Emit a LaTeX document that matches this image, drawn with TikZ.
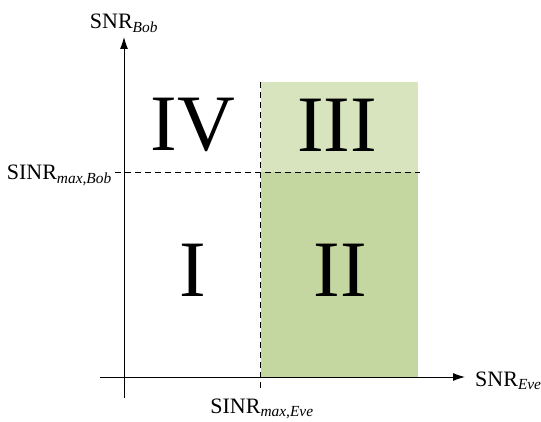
\documentclass[tikz,border=0pt]{standalone}
\usepackage{fontspec}
\setmainfont{Liberation Serif}
\usetikzlibrary{arrows.meta}
\definecolor{darkg}{HTML}{C4D7A0}
\definecolor{lightg}{HTML}{D7E4BD}
\begin{document}
\begin{tikzpicture}[x=1pt,y=-1pt,
  axis/.style={line width=1pt,-{Latex[length=12pt,width=8pt]}},
  dline/.style={line width=0.8pt,dash pattern=on 6pt off 4pt},
  roman/.style={font=\fontsize{80}{84}\selectfont,inner sep=0pt},
  lbl/.style={font=\fontsize{22}{26}\selectfont,inner sep=0pt}]
\useasboundingbox (0,0) rectangle (541,422);
\fill[darkg] (261,172) rectangle (418,377);
\fill[lightg] (261,82) rectangle (418,172);
\coordinate (xs) at (100,377);
\coordinate (xe) at (465,377);
\coordinate (ys) at (124,398);
\coordinate (ye) at (124,37);
\draw[axis] (xs) -- (xe);
\draw[axis] (ys) -- (ye);
\node[lbl,anchor=base] (snrbob) at (124,29) {SNR\textsubscript{\textit{Bob}}};
\node[lbl,anchor=base west] (snreve) at (475,386) {SNR\textsubscript{\textit{Eve}}};
\node[lbl,anchor=base east] (sinrbob) at (112,180) {SINR\textsubscript{\textit{max,Bob}}};
\node[lbl,anchor=base] (sinreve) at (262,413) {SINR\textsubscript{\textit{max,Eve}}};
\coordinate (vt) at (260,82);
\coordinate (vb) at (260,390);
\coordinate (hr) at (420,172);
\draw[dline] (vt) -- (vb);
\draw[dline] (sinrbob.east |- 0,172) ++(3,0) -- (hr);
\node[roman] (iv) at (193,125) {IV};
\node[roman] (iii) at (337,125) {III};
\node[roman] (i) at (193,270) {I};
\node[roman] (ii) at (340,270) {II};
\end{tikzpicture}
\end{document}
